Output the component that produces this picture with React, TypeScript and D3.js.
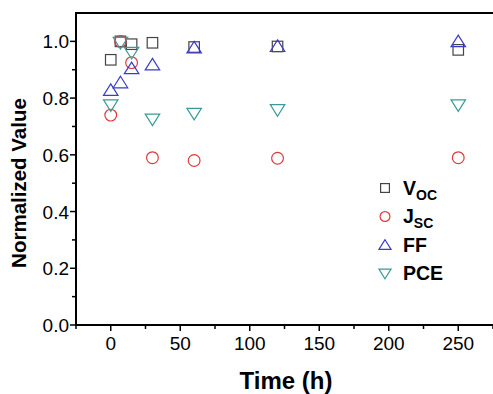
import React, { useEffect, useRef } from 'react'
import * as d3 from 'd3'

const times = [0, 7, 15, 30, 60, 120, 250]
const voc = [0.935, 1.0, 0.99, 0.995, 0.98, 0.982, 0.97]
const jsc = [0.74, 1.0, 0.925, 0.59, 0.58, 0.588, 0.59]
const ff = [0.828, 0.855, 0.905, 0.918, 0.978, 0.983, 1.0]
const pce = [0.775, 0.995, 0.96, 0.725, 0.745, 0.758, 0.775]

const xTicks = [0, 50, 100, 150, 200, 250]
const xMinor = [-25, 25, 75, 125, 175, 225, 275]
const yTicks = [0, 0.2, 0.4, 0.6, 0.8, 1.0]
const yMinor = [0.1, 0.3, 0.5, 0.7, 0.9]

const W = 493, H = 394
const margin = { top: 13, right: 0, bottom: 69, left: 76 }

const FONT = 'Arial, "Liberation Sans", sans-serif'

export default function App() {
  const ref = useRef<SVGSVGElement>(null)

  useEffect(() => {
    const svg = d3.select(ref.current)
    svg.selectAll('*').remove()

    const x = d3.scaleLinear().domain([-25, 275]).range([margin.left, W - margin.right])
    const y = d3.scaleLinear().domain([0, 1.1]).range([H - margin.bottom, margin.top])

    const series = [
      { key: 'voc', values: voc, shape: 'square', color: '#444444', label: 'V', sub: 'OC' },
      { key: 'jsc', values: jsc, shape: 'circle', color: '#e0393e', label: 'J', sub: 'SC' },
      { key: 'ff', values: ff, shape: 'up', color: '#3b3bcc', label: 'FF', sub: '' },
      { key: 'pce', values: pce, shape: 'down', color: '#3a9a9a', label: 'PCE', sub: '' },
    ]

    const drawMarker = (g: any, shape: string, cx: number, cy: number, color: string, s: number) => {
      if (shape === 'square') {
        g.append('rect').attr('x', cx - s * 0.42).attr('y', cy - s * 0.42)
          .attr('width', s * 0.84).attr('height', s * 0.84)
          .attr('fill', 'none').attr('stroke', color).attr('stroke-width', 1.2)
      } else if (shape === 'circle') {
        g.append('circle').attr('cx', cx).attr('cy', cy).attr('r', s * 0.47)
          .attr('fill', 'none').attr('stroke', color).attr('stroke-width', 1.2)
      } else if (shape === 'up') {
        const h = s * 0.5
        g.append('path').attr('d', `M${cx},${cy - h}L${cx + s * 0.58},${cy + h * 0.85}L${cx - s * 0.58},${cy + h * 0.85}Z`)
          .attr('fill', 'none').attr('stroke', color).attr('stroke-width', 1.2)
      } else {
        const h = s * 0.5
        g.append('path').attr('d', `M${cx},${cy + h}L${cx + s * 0.58},${cy - h * 0.85}L${cx - s * 0.58},${cy - h * 0.85}Z`)
          .attr('fill', 'none').attr('stroke', color).attr('stroke-width', 1.2)
      }
    }

    const pts = svg.append('g')
    series.forEach(se => {
      se.values.forEach((v, i) => drawMarker(pts, se.shape, x(times[i]), y(v), se.color, 12.5))
    })

    // axes
    const axisG = svg.append('g').attr('stroke', '#000')
    axisG.append('line').attr('x1', x(-25)).attr('x2', x(-25)).attr('y1', y(1.1)).attr('y2', y(0) + 1).attr('stroke-width', 2)
    axisG.append('line').attr('x1', x(-25) - 1).attr('x2', W).attr('y1', y(0)).attr('y2', y(0)).attr('stroke-width', 2)
    axisG.append('line').attr('x1', x(-25) - 1).attr('x2', W).attr('y1', y(1.1)).attr('y2', y(1.1)).attr('stroke-width', 2)

    xTicks.forEach(t => axisG.append('line').attr('x1', x(t)).attr('x2', x(t)).attr('y1', y(0)).attr('y2', y(0) + 6).attr('stroke-width', 1.5))
    xMinor.forEach(t => axisG.append('line').attr('x1', x(t)).attr('x2', x(t)).attr('y1', y(0)).attr('y2', y(0) + 4).attr('stroke-width', 1.5))
    yTicks.forEach(t => axisG.append('line').attr('x1', x(-25) - 6).attr('x2', x(-25)).attr('y1', y(t)).attr('y2', y(t)).attr('stroke-width', 1.5))
    yMinor.forEach(t => axisG.append('line').attr('x1', x(-25) - 4).attr('x2', x(-25)).attr('y1', y(t)).attr('y2', y(t)).attr('stroke-width', 1.5))

    svg.append('g').selectAll('text').data(xTicks).join('text')
      .attr('x', d => x(d)).attr('y', y(0) + 25)
      .attr('text-anchor', 'middle').attr('font-family', FONT).attr('font-size', 19)
      .text(d => d3.format('d')(d))

    svg.append('g').selectAll('text').data(yTicks).join('text')
      .attr('x', x(-25) - 7).attr('y', d => y(d) + 7)
      .attr('text-anchor', 'end').attr('font-family', FONT).attr('font-size', 19)
      .text(d => d3.format('.1f')(d))

    svg.append('text').attr('x', 286).attr('y', 389)
      .attr('text-anchor', 'middle').attr('font-family', FONT).attr('font-size', 24).attr('font-weight', 'bold')
      .text('Time (h)')

    svg.append('text').attr('transform', `translate(26,${183}) rotate(-90)`)
      .attr('text-anchor', 'middle').attr('font-family', FONT).attr('font-size', 20.5).attr('font-weight', 'bold')
      .text('Normalized Value')

    // legend
    const leg = svg.append('g')
    series.forEach((se, i) => {
      const cy = 188 + i * 28.5
      drawMarker(leg, se.shape, 385, cy, se.color, 10.5)
      const t = leg.append('text').attr('x', 403).attr('y', cy + 6.5)
        .attr('font-family', FONT).attr('font-size', 19.5).attr('font-weight', 'bold')
      t.append('tspan').text(se.label)
      if (se.sub) t.append('tspan').attr('font-size', 14).attr('dy', 5).text(se.sub)
    })
  }, [])

  return (
    <svg ref={ref} width={W} height={H}
      style={{ position: 'absolute', left: 0, top: 0, background: '#fff' }} />
  )
}
